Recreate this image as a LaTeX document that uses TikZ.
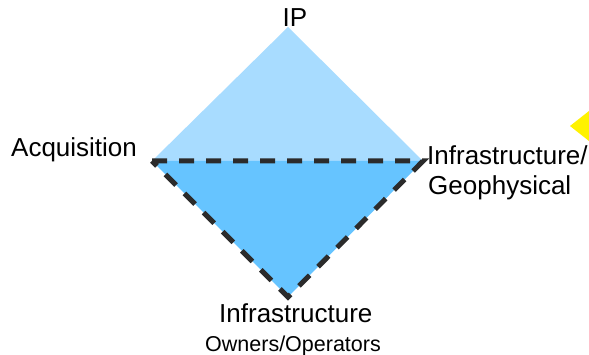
\documentclass[tikz,border=0pt]{standalone}
\usepackage{fontspec}
\setmainfont{Liberation Sans}
\definecolor{lightblue}{HTML}{A8DCFF}
\definecolor{midblue}{HTML}{66C4FF}
\definecolor{dashgray}{HTML}{2B2B2B}
\tikzset{
  lbl/.style={inner sep=0pt, font=\fontsize{26}{30}\selectfont},
  lblsmall/.style={inner sep=0pt, font=\fontsize{21.5}{25}\selectfont},
  edgedash/.style={draw=dashgray, line width=5pt, dash pattern=on 15pt off 12pt, line join=miter}
}
\begin{document}
\begin{tikzpicture}[x=1pt,y=-1pt]
\useasboundingbox (0,0) rectangle (589,355);
\fill[white] (0,0) rectangle (589,355);
\coordinate (T) at (288,27);
\coordinate (L) at (152,161);
\coordinate (R) at (423,161);
\coordinate (B) at (288,297);
\fill[lightblue] (T) -- (L) -- (R) -- cycle;
\fill[midblue] (L) -- (R) -- (B) -- cycle;
\draw[edgedash] (L) -- (R) -- (B) -- cycle;
\fill[yellow] (570,126) -- (589,111) -- (608,126) -- (589,141) -- cycle;
\node[lbl, anchor=base] (ip) at (295,27) {IP};
\node[lbl, anchor=base west] (acq) at (11,157) {Acquisition};
\node[lbl, anchor=base west] (inf1) at (427,165) {Infrastructure/};
\node[lbl, anchor=base west] (geo) at (428,195) {Geophysical};
\node[lbl, anchor=base west] (inf2) at (219,323) {Infrastructure};
\node[lblsmall, anchor=base west] (own) at (205,352) {Owners/Operators};
\end{tikzpicture}
\end{document}
